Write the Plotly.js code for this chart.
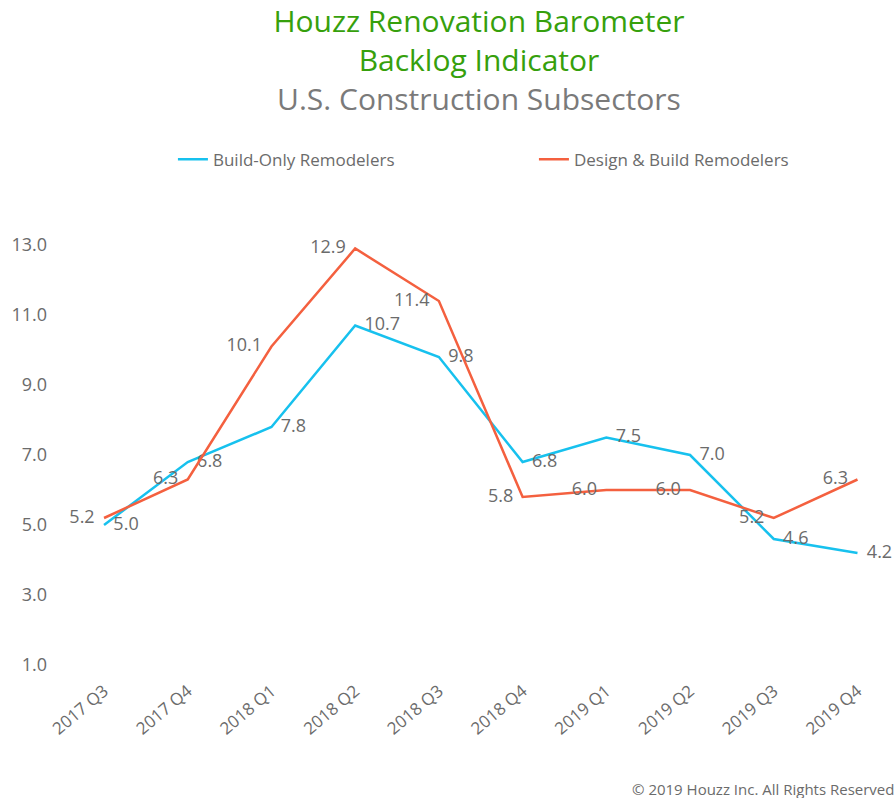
<!DOCTYPE html>
<html>
<head>
<meta charset="utf-8">
<script src="https://cdn.plot.ly/plotly-3.0.1.min.js"></script>
<style>html,body{margin:0;padding:0;background:#fff;overflow:hidden}</style>
</head>
<body>
<div id="chart" style="width:896px;height:798px"></div>
<script>
const quarters = ["2017 Q3","2017 Q4","2018 Q1","2018 Q2","2018 Q3","2018 Q4","2019 Q1","2019 Q2","2019 Q3","2019 Q4"];
const buildOnly = [5.0, 6.8, 7.8, 10.7, 9.8, 6.8, 7.5, 7.0, 4.6, 4.2];
const designBuild = [5.2, 6.3, 10.1, 12.9, 11.4, 5.8, 6.0, 6.0, 5.2, 6.3];
const yTicks = [1, 3, 5, 7, 9, 11, 13];

const FONT = "'Open Sans', sans-serif";
const GRAY = "#6b6b6b";
const labelFont = {family: FONT, size: 18, color: GRAY};
const pad = "\u00a0\u00a0";

const traces = [
  {
    x: quarters, y: buildOnly, name: "Build-Only Remodelers",
    type: "scatter", mode: "lines+text",
    line: {color: "#17c1ee", width: 2.5},
    text: buildOnly.map(v => pad + v.toFixed(1)), textposition: "middle right",
    textfont: labelFont, cliponaxis: false, hoverinfo: "x+y"
  },
  {
    x: quarters, y: designBuild, name: "Design & Build Remodelers",
    type: "scatter", mode: "lines+text",
    line: {color: "#f4603f", width: 2.5},
    text: designBuild.map(v => v.toFixed(1) + pad), textposition: "middle left",
    textfont: labelFont, cliponaxis: false, hoverinfo: "x+y"
  }
];

const layout = {
  width: 896, height: 798,
  margin: {l: 62, r: 0, t: 245, b: 133},
  paper_bgcolor: "#fff", plot_bgcolor: "#fff",
  font: {family: FONT, color: GRAY},
  showlegend: true,
  title: {
    text: "<span style='color:#36a00c'>Houzz Renovation Barometer</span><br><span style='color:#36a00c'>Backlog Indicator</span><br><span style='color:#7a7a7a'>U.S. Construction Subsectors</span>",
    font: {family: FONT, size: 30},
    x: 0.5, xref: "paper", xanchor: "center",
    y: 0.960, yref: "container", yanchor: "top"
  },
  legend: {
    orientation: "h", xref: "container", yref: "container",
    x: 0.193, xanchor: "left", y: 0.8, yanchor: "middle",
    entrywidth: 316, entrywidthmode: "pixels",
    font: {family: FONT, size: 17, color: GRAY},
    itemwidth: 30
  },
  xaxis: {
    type: "category", range: [-0.502, 9.46],
    showgrid: false, zeroline: false, showline: false, ticks: "",
    tickangle: -40, ticklabelstandoff: 12,
    tickfont: {family: FONT, size: 17, color: GRAY}
  },
  yaxis: {
    range: [1, 13], tickvals: yTicks, tickformat: ".1f",
    showgrid: false, zeroline: false, showline: false, ticks: "",
    ticklabelstandoff: 14,
    tickfont: {family: FONT, size: 18, color: GRAY}
  },
  annotations: [{
    text: "© 2019 Houzz Inc. All Rights Reserved",
    xref: "paper", yref: "paper", x: 1, y: (665 - 789) / 420,
    xanchor: "right", yanchor: "middle", showarrow: false,
    font: {family: FONT, size: 15, color: GRAY}
  }]
};

Plotly.newPlot("chart", traces, layout, {displayModeBar: false, responsive: false});
</script>
</body>
</html>
